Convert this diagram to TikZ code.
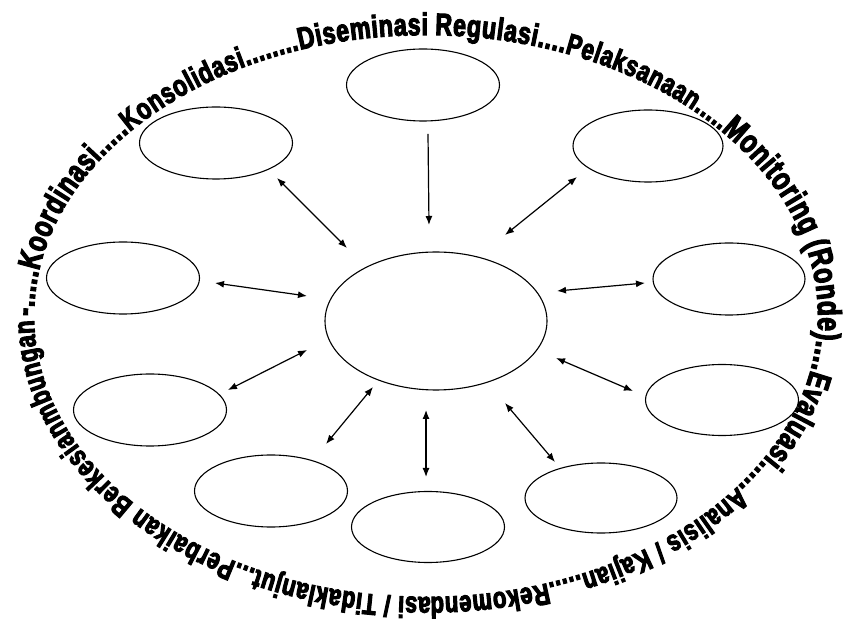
\documentclass[tikz,border=0pt]{standalone}
\usepackage{fontspec}
\usetikzlibrary{shapes.geometric,arrows.meta,decorations.text}
\newfontfamily\arcfont{Liberation Sans Bold}[FakeStretch=0.75,FakeBold=3.5]
\newcommand\fsz[1]{\arcfont\fontsize{#1}{#1}\selectfont}
\begin{document}
\begin{tikzpicture}[x=1pt,y=1pt,
  oval/.style={draw,ellipse,line width=1.1pt,inner sep=0pt},
  small/.style={oval,minimum width=153pt,minimum height=72pt},
  link/.style={line width=1.2pt,{Latex[length=9pt,width=7pt]}-{Latex[length=9pt,width=7pt]}},
  onelink/.style={line width=1.2pt,-{Latex[length=9pt,width=7pt]}}]
\useasboundingbox (0,0) rectangle (851,621);
% text ring
\path[decorate,decoration={text along path,text align={fit to path},
  text={|\fsz{32}|-.....Koordinasi.....|\fsz{30}|Konsolidasi........|\fsz{31}|Diseminasi Regulasi....|\fsz{29.5}|Pelaksanaan.....|\fsz{33}|Monitoring (Ronde)....|\fsz{32}|Evaluasi.....|\fsz{29.5}|Analisis / Kajian.....|\fsz{29.5}|Rekomendasi / Tidaklanjut...|\fsz{29.5}|Perbaikan Berkesianmbungan}}]
  (34,305) arc[start angle=180,end angle=-179,x radius=392,y radius=281];
% ellipses
\node[oval,minimum width=222pt,minimum height=138pt] (c) at (436,300) {};
\node[small] (top) at (423,536) {};
\node[small] (ul) at (216,478) {};
\node[small,minimum width=150pt] (ur) at (648,475) {};
\node[small] (l) at (123,343) {};
\node[small,minimum width=152pt] (r) at (729,342) {};
\node[small] (ll) at (150,211) {};
\node[small] (lml) at (271,130) {};
\node[small,minimum height=71pt] (b) at (428,94) {};
\node[small,minimum width=152pt,minimum height=70pt] (lr) at (601,123) {};
\node[small,minimum height=71pt] (rl) at (722,221) {};
% arrow end points
\coordinate (t1) at (428,487); \coordinate (t2) at (429,396);
\coordinate (a1) at (277,443); \coordinate (a2) at (347,373);
\coordinate (b1) at (577,444); \coordinate (b2) at (505,386);
\coordinate (c1) at (215,338); \coordinate (c2) at (307,325);
\coordinate (d1) at (645,338); \coordinate (d2) at (557,330);
\coordinate (e1) at (228,231); \coordinate (e2) at (307,271);
\coordinate (f1) at (326,177); \coordinate (f2) at (373,234);
\coordinate (g1) at (426,144); \coordinate (g2) at (426,211);
\coordinate (h1) at (555,159); \coordinate (h2) at (505,218);
\coordinate (i1) at (633,230); \coordinate (i2) at (556,263);
\draw[onelink] (t1) -- (t2);
\draw[link] (a1) -- (a2);
\draw[link] (b1) -- (b2);
\draw[link] (c1) -- (c2);
\draw[link] (d1) -- (d2);
\draw[link] (e1) -- (e2);
\draw[link] (f1) -- (f2);
\draw[link] (g1) -- (g2);
\draw[link] (h1) -- (h2);
\draw[link] (i1) -- (i2);
\end{tikzpicture}
\end{document}
